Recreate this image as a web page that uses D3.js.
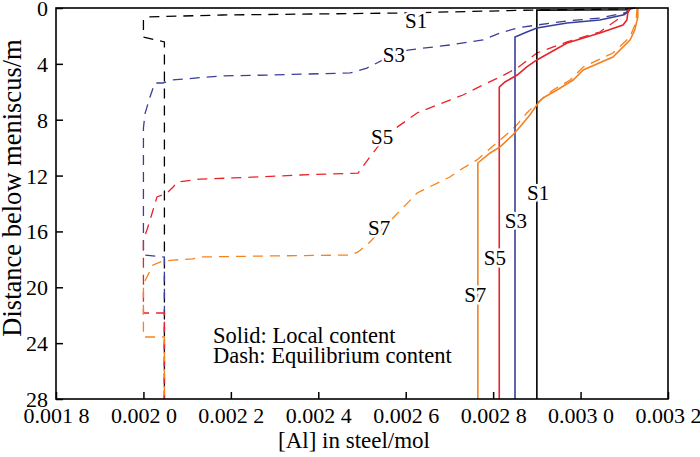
<!DOCTYPE html>
<html>
<head>
<meta charset="utf-8">
<script src="https://cdn.jsdelivr.net/npm/d3@7"></script>
<style>
  body { margin: 0; background: #fff; }
</style>
</head>
<body>
<svg id="chart" width="700" height="457"></svg>
<script>
// [Al] in steel (mol) vs distance below meniscus (m)
const s1Local = [[0.003115, 0], [0.00311, 0.12], [0.0029, 0.15], [0.0029, 28]];
const s3Local = [[0.003115, 0], [0.003109, 0.2], [0.003097, 0.5], [0.003044, 0.86], [0.002969, 1.07],
  [0.0029, 1.43], [0.002877, 1.72], [0.00285, 2.08], [0.00285, 28]];
const s5Local = [[0.003113, 0], [0.003109, 0.14], [0.003106, 0.86], [0.003097, 1.22], [0.003044, 1.79],
  [0.002969, 2.51], [0.0029, 3.72], [0.002877, 4.22], [0.002855, 4.8], [0.002827, 5.3],
  [0.002814, 5.66], [0.002814, 28]];
const s7Local = [[0.003131, 0], [0.003131, 0.64], [0.003124, 1.58], [0.003113, 2.29], [0.003074, 3.51],
  [0.003006, 4.44], [0.002983, 5.16], [0.002946, 5.87], [0.002914, 6.44], [0.002903, 6.8],
  [0.002884, 7.66], [0.002861, 8.52], [0.002845, 9.09], [0.002816, 9.95], [0.002793, 10.38],
  [0.002765, 11.1], [0.002765, 28]];

const s1Equil = [[0.003125, 0], [0.00311, 0.07], [0.0029, 0.14], [0.00259, 0.36], [0.00218, 0.5],
  [0.00201, 0.64], [0.002, 0.86], [0.002, 2.08], [0.002048, 2.43], [0.002048, 28]];
const s3Equil = [[0.003115, 0], [0.003109, 0.29], [0.003044, 0.72], [0.002969, 0.93], [0.0029, 1.22],
  [0.002855, 1.43], [0.002816, 1.79], [0.002777, 2.29], [0.002701, 2.65], [0.002605, 3.01],
  [0.002548, 3.72], [0.002511, 4.3], [0.002473, 4.65], [0.002283, 4.8], [0.002175, 4.87],
  [0.002065, 5.16], [0.002045, 5.37], [0.002026, 5.37], [0.002015, 6.37], [0.002004, 7.52],
  [0.002, 8.59], [0.002, 17.69], [0.002048, 17.83], [0.002048, 28]];
const s5Equil = [[0.003113, 0], [0.003109, 0.29], [0.003044, 1.72], [0.002969, 2.43], [0.0029, 3.22],
  [0.002855, 4.3], [0.002816, 4.94], [0.002777, 5.51], [0.002731, 6.23], [0.002701, 6.59],
  [0.002626, 7.52], [0.002571, 8.74], [0.002548, 9.45], [0.002518, 10.67], [0.002491, 11.82],
  [0.002358, 11.96], [0.002205, 12.17], [0.002129, 12.25], [0.002077, 12.46], [0.002068, 12.82],
  [0.002054, 13.25], [0.002031, 13.53], [0.00202, 14.68], [0.002008, 15.9], [0.002, 16.6],
  [0.002, 21.84], [0.002048, 21.84], [0.002048, 28]];
const s7Equil = [[0.003129, 0], [0.003127, 1.0], [0.003113, 2.08], [0.003074, 3.22], [0.003006, 4.22],
  [0.002976, 5.16], [0.002937, 5.87], [0.002903, 6.73], [0.002877, 7.52], [0.00285, 8.52],
  [0.002816, 9.45], [0.002763, 10.88], [0.002724, 11.6], [0.002701, 12.1], [0.002626, 13.25],
  [0.002571, 15.04], [0.002518, 16.76], [0.002491, 17.47], [0.002473, 17.69], [0.002283, 17.76],
  [0.002129, 17.83], [0.002113, 17.97], [0.002068, 18.05], [0.002045, 18.12], [0.002022, 18.4],
  [0.002008, 19.26], [0.002, 19.76], [0.002, 23.56], [0.002048, 23.56], [0.002048, 28]];

const seriesNames = ["S1", "S3", "S5", "S7"];
const localSeries = [s1Local, s3Local, s5Local, s7Local];
const equilSeries = [s1Equil, s3Equil, s5Equil, s7Equil];

// label anchors, in data units
const localLabelAt = [[0.002903, 13.75], [0.002852, 15.75], [0.002804, 18.4], [0.002759, 21.05]];
const equilLabelAt = [[0.002624, 1.43], [0.002573, 3.87], [0.002546, 9.74], [0.002539, 16.26]];

const xTicks = [0.0018, 0.0020, 0.0022, 0.0024, 0.0026, 0.0028, 0.0030, 0.0032];
const yTicks = [0, 4, 8, 12, 16, 20, 24, 28];
const legendLines = ["Solid: Local content", "Dash: Equilibrium content"];

const colors = ["#000000", "#3a3f98", "#e8232a", "#f5821f"];
const serif = '"Liberation Serif", Tinos, "Noto Serif", FreeSerif, "Nimbus Roman", "DejaVu Serif", "Times New Roman", Times, serif';

const margin = {top: 8, left: 56},
    width = 612,
    height = 391;

const svg = d3.select("#chart");
const g = svg.append("g").attr("transform", `translate(${margin.left},${margin.top})`);

const x = d3.scaleLinear().domain([0.0018, 0.0032]).range([0, width]);
const y = d3.scaleLinear().domain([0, 28]).range([0, height]);

// "0.002 0" style labels
const fmtX = v => { const s = d3.format(".4f")(v); return s.slice(0, -1) + " " + s.slice(-1); };

const xAxis = g.append("g")
    .attr("transform", `translate(0,${height})`)
    .call(d3.axisBottom(x).tickValues(xTicks).tickFormat(fmtX).tickSizeInner(-7).tickSizeOuter(0));
const yAxis = g.append("g")
    .call(d3.axisLeft(y).tickValues(yTicks).tickSizeInner(-7).tickSizeOuter(0));

[xAxis, yAxis].forEach(a => {
    a.attr("font-family", null);
    a.select(".domain").remove();
    a.selectAll(".tick line").attr("stroke", "#000").attr("stroke-width", 1.5);
    a.selectAll(".tick text").style("font-size", "22px").attr("fill", "#000");
});
xAxis.selectAll(".tick text").attr("dy", "0.71em").attr("y", 8);
yAxis.selectAll(".tick text").attr("x", -8).attr("dy", "0.34em");

const line = d3.line().x(d => x(d[0])).y(d => y(d[1]));

const lines = g.append("g").attr("fill", "none");
equilSeries.forEach((s, i) => {
    lines.append("path").datum(s)
        .attr("d", line)
        .attr("stroke", colors[i])
        .attr("stroke-width", 1.3)
        .attr("stroke-dasharray", "10,7");
});
localSeries.forEach((s, i) => {
    lines.append("path").datum(s)
        .attr("d", line)
        .attr("stroke", colors[i])
        .attr("stroke-width", 1.6);
});

// frame
g.append("rect")
    .attr("width", width).attr("height", height)
    .attr("fill", "none").attr("stroke", "#000").attr("stroke-width", 1.6);

// series labels with a white halo so the lines break behind them
const labels = g.append("g")
    .style("font-size", "21px")
    .attr("text-anchor", "middle");
[localLabelAt, equilLabelAt].forEach(set => {
    set.forEach((p, i) => {
        labels.append("text")
            .attr("x", x(p[0])).attr("y", y(p[1]))
            .attr("stroke", "#fff").attr("stroke-width", 5)
            .attr("paint-order", "stroke")
            .text(seriesNames[i]);
    });
});

// note in the plot
const note = g.append("text")
    .attr("x", x(0.0021592)).attr("y", y(23.99))
    .style("font-size", "22.5px");
legendLines.forEach((t, i) => {
    note.append("tspan").attr("x", x(0.0021592)).attr("dy", i ? "0.89em" : 0).text(t);
});

// axis titles
svg.append("text")
    .attr("x", margin.left + width / 2 - 8).attr("y", 448)
    .attr("text-anchor", "middle")
    .style("font-size", "23px")
    .text("[Al] in steel/mol");

svg.append("text")
    .attr("transform", `translate(21,${margin.top + 180}) rotate(-90)`)
    .attr("text-anchor", "middle")
    .style("font-size", "26.5px")
    .text("Distance below meniscus/m");

svg.selectAll("text").style("font-family", serif).attr("fill", "#000");
</script>
</body>
</html>
